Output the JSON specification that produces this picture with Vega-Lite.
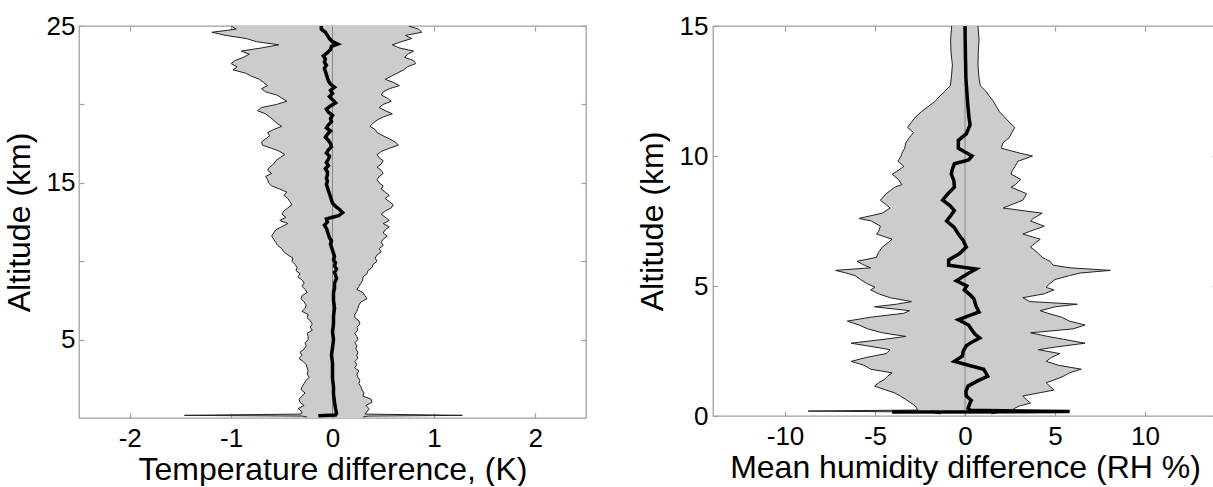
{
  "$schema": "https://vega.github.io/schema/vega-lite/v6.json",
  "background": "white",
  "padding": {"left": 2, "top": 12, "right": 0, "bottom": 0},
  "config": {
    "font": "Liberation Sans",
    "view": {"stroke": "#a0a0a0", "strokeWidth": 1.3},
    "axis": {"domain": false, "grid": false, "tickColor": "#a0a0a0", "tickWidth": 1.2, "tickSize": -5, "labelFont": "Liberation Sans", "titleFont": "Liberation Sans", "labelFontSize": 26, "titleFontSize": 32, "labelColor": "black", "titleColor": "black", "titleFontWeight": "normal"}
  },
  "datasets": {
    "temp": [
      {"alt":25.0,"lo":-1.0,"hi":0.75},{"alt":24.8,"lo":-0.95,"hi":0.85},{"alt":24.6,"lo":-1.19,"hi":0.88},{"alt":24.4,"lo":-1.05,"hi":0.72},{"alt":24.2,"lo":-0.85,"hi":0.78},{"alt":24.0,"lo":-0.75,"hi":0.68},{"alt":23.8,"lo":-0.53,"hi":0.59},{"alt":23.6,"lo":-0.70,"hi":0.66},{"alt":23.4,"lo":-0.90,"hi":0.80},{"alt":23.2,"lo":-0.82,"hi":0.74},{"alt":23.0,"lo":-0.88,"hi":0.71},{"alt":22.8,"lo":-0.96,"hi":0.80},{"alt":22.6,"lo":-1.00,"hi":0.82},{"alt":22.4,"lo":-0.94,"hi":0.74},{"alt":22.2,"lo":-0.98,"hi":0.70},{"alt":22.0,"lo":-0.86,"hi":0.64},{"alt":21.8,"lo":-0.80,"hi":0.58},{"alt":21.6,"lo":-0.72,"hi":0.52},{"alt":21.4,"lo":-0.68,"hi":0.60},{"alt":21.2,"lo":-0.64,"hi":0.66},{"alt":21.0,"lo":-0.70,"hi":0.56},{"alt":20.8,"lo":-0.66,"hi":0.50},{"alt":20.6,"lo":-0.55,"hi":0.48},{"alt":20.4,"lo":-0.50,"hi":0.54},{"alt":20.2,"lo":-0.45,"hi":0.58},{"alt":20.0,"lo":-0.55,"hi":0.50},{"alt":19.8,"lo":-0.70,"hi":0.46},{"alt":19.6,"lo":-0.74,"hi":0.52},{"alt":19.4,"lo":-0.66,"hi":0.59},{"alt":19.2,"lo":-0.62,"hi":0.50},{"alt":19.0,"lo":-0.58,"hi":0.44},{"alt":18.8,"lo":-0.55,"hi":0.40},{"alt":18.6,"lo":-0.50,"hi":0.37},{"alt":18.4,"lo":-0.58,"hi":0.42},{"alt":18.2,"lo":-0.64,"hi":0.44},{"alt":18.0,"lo":-0.62,"hi":0.50},{"alt":17.8,"lo":-0.66,"hi":0.56},{"alt":17.6,"lo":-0.70,"hi":0.62},{"alt":17.4,"lo":-0.69,"hi":0.65},{"alt":17.2,"lo":-0.60,"hi":0.56},{"alt":17.0,"lo":-0.52,"hi":0.48},{"alt":16.8,"lo":-0.47,"hi":0.44},{"alt":16.6,"lo":-0.52,"hi":0.46},{"alt":16.4,"lo":-0.56,"hi":0.50},{"alt":16.2,"lo":-0.58,"hi":0.48},{"alt":16.0,"lo":-0.62,"hi":0.44},{"alt":15.8,"lo":-0.64,"hi":0.48},{"alt":15.6,"lo":-0.60,"hi":0.50},{"alt":15.4,"lo":-0.66,"hi":0.46},{"alt":15.2,"lo":-0.64,"hi":0.44},{"alt":15.0,"lo":-0.63,"hi":0.46},{"alt":14.8,"lo":-0.60,"hi":0.50},{"alt":14.6,"lo":-0.52,"hi":0.48},{"alt":14.4,"lo":-0.45,"hi":0.52},{"alt":14.2,"lo":-0.48,"hi":0.56},{"alt":14.0,"lo":-0.44,"hi":0.52},{"alt":13.8,"lo":-0.42,"hi":0.56},{"alt":13.6,"lo":-0.40,"hi":0.60},{"alt":13.4,"lo":-0.44,"hi":0.58},{"alt":13.2,"lo":-0.48,"hi":0.52},{"alt":13.0,"lo":-0.50,"hi":0.48},{"alt":12.8,"lo":-0.46,"hi":0.52},{"alt":12.6,"lo":-0.52,"hi":0.56},{"alt":12.4,"lo":-0.44,"hi":0.50},{"alt":12.2,"lo":-0.50,"hi":0.56},{"alt":12.0,"lo":-0.56,"hi":0.52},{"alt":11.8,"lo":-0.58,"hi":0.50},{"alt":11.6,"lo":-0.60,"hi":0.54},{"alt":11.4,"lo":-0.58,"hi":0.50},{"alt":11.2,"lo":-0.56,"hi":0.48},{"alt":11.0,"lo":-0.54,"hi":0.50},{"alt":10.8,"lo":-0.50,"hi":0.46},{"alt":10.6,"lo":-0.48,"hi":0.48},{"alt":10.4,"lo":-0.44,"hi":0.44},{"alt":10.2,"lo":-0.39,"hi":0.42},{"alt":10.0,"lo":-0.40,"hi":0.44},{"alt":9.8,"lo":-0.37,"hi":0.40},{"alt":9.6,"lo":-0.35,"hi":0.39},{"alt":9.4,"lo":-0.36,"hi":0.35},{"alt":9.2,"lo":-0.32,"hi":0.34},{"alt":9.0,"lo":-0.34,"hi":0.30},{"alt":8.8,"lo":-0.30,"hi":0.30},{"alt":8.6,"lo":-0.28,"hi":0.28},{"alt":8.4,"lo":-0.30,"hi":0.26},{"alt":8.2,"lo":-0.27,"hi":0.24},{"alt":8.0,"lo":-0.25,"hi":0.30},{"alt":7.8,"lo":-0.30,"hi":0.32},{"alt":7.6,"lo":-0.31,"hi":0.34},{"alt":7.4,"lo":-0.28,"hi":0.28},{"alt":7.2,"lo":-0.26,"hi":0.26},{"alt":7.0,"lo":-0.27,"hi":0.25},{"alt":6.8,"lo":-0.30,"hi":0.24},{"alt":6.6,"lo":-0.24,"hi":0.22},{"alt":6.4,"lo":-0.25,"hi":0.22},{"alt":6.2,"lo":-0.22,"hi":0.26},{"alt":6.0,"lo":-0.20,"hi":0.27},{"alt":5.8,"lo":-0.22,"hi":0.24},{"alt":5.6,"lo":-0.20,"hi":0.25},{"alt":5.4,"lo":-0.25,"hi":0.22},{"alt":5.2,"lo":-0.24,"hi":0.24},{"alt":5.0,"lo":-0.24,"hi":0.25},{"alt":4.8,"lo":-0.27,"hi":0.22},{"alt":4.6,"lo":-0.26,"hi":0.24},{"alt":4.4,"lo":-0.28,"hi":0.23},{"alt":4.2,"lo":-0.32,"hi":0.25},{"alt":4.0,"lo":-0.30,"hi":0.24},{"alt":3.8,"lo":-0.33,"hi":0.25},{"alt":3.6,"lo":-0.29,"hi":0.22},{"alt":3.4,"lo":-0.26,"hi":0.24},{"alt":3.2,"lo":-0.25,"hi":0.22},{"alt":3.0,"lo":-0.24,"hi":0.26},{"alt":2.8,"lo":-0.25,"hi":0.24},{"alt":2.6,"lo":-0.23,"hi":0.25},{"alt":2.4,"lo":-0.26,"hi":0.27},{"alt":2.2,"lo":-0.28,"hi":0.26},{"alt":2.0,"lo":-0.30,"hi":0.28},{"alt":1.8,"lo":-0.31,"hi":0.29},{"alt":1.6,"lo":-0.27,"hi":0.31},{"alt":1.4,"lo":-0.30,"hi":0.30},{"alt":1.2,"lo":-0.33,"hi":0.38},{"alt":1.0,"lo":-0.32,"hi":0.39},{"alt":0.8,"lo":-0.28,"hi":0.33},{"alt":0.6,"lo":-0.34,"hi":0.36},{"alt":0.4,"lo":-0.30,"hi":0.34},{"alt":0.25,"lo":-0.31,"hi":0.32},{"alt":0.17,"lo":-1.46,"hi":1.28},{"alt":0.12,"lo":-0.30,"hi":0.35},{"alt":0.06,"lo":-0.25,"hi":0.30}
    ],
    "tmean": [
      {"alt":25.0,"m":-0.11},{"alt":24.8,"m":-0.11},{"alt":24.6,"m":-0.07},{"alt":24.4,"m":-0.05},{"alt":24.2,"m":-0.03},{"alt":24.0,"m":0.0},{"alt":23.85,"m":0.05},{"alt":23.7,"m":-0.01},{"alt":23.5,"m":-0.02},{"alt":23.3,"m":-0.05},{"alt":23.1,"m":-0.09},{"alt":22.9,"m":-0.07},{"alt":22.7,"m":-0.08},{"alt":22.5,"m":-0.06},{"alt":22.3,"m":-0.08},{"alt":22.1,"m":-0.07},{"alt":21.9,"m":-0.06},{"alt":21.7,"m":-0.05},{"alt":21.5,"m":-0.04},{"alt":21.3,"m":-0.02},{"alt":21.1,"m":0.02},{"alt":20.9,"m":-0.02},{"alt":20.7,"m":0.0},{"alt":20.5,"m":-0.03},{"alt":20.3,"m":0.0},{"alt":20.1,"m":0.03},{"alt":19.9,"m":-0.02},{"alt":19.7,"m":-0.06},{"alt":19.5,"m":-0.04},{"alt":19.3,"m":0.0},{"alt":19.1,"m":-0.02},{"alt":18.9,"m":-0.01},{"alt":18.7,"m":-0.04},{"alt":18.5,"m":-0.06},{"alt":18.3,"m":-0.02},{"alt":18.1,"m":-0.05},{"alt":17.9,"m":-0.07},{"alt":17.7,"m":-0.04},{"alt":17.5,"m":-0.02},{"alt":17.3,"m":-0.01},{"alt":17.1,"m":-0.04},{"alt":16.9,"m":-0.06},{"alt":16.7,"m":-0.03},{"alt":16.5,"m":-0.04},{"alt":16.3,"m":-0.06},{"alt":16.1,"m":-0.04},{"alt":15.9,"m":-0.07},{"alt":15.7,"m":-0.05},{"alt":15.5,"m":-0.05},{"alt":15.3,"m":-0.06},{"alt":15.1,"m":-0.05},{"alt":14.9,"m":-0.06},{"alt":14.7,"m":-0.05},{"alt":14.5,"m":-0.04},{"alt":14.3,"m":-0.03},{"alt":14.1,"m":-0.02},{"alt":13.9,"m":-0.01},{"alt":13.7,"m":0.0},{"alt":13.5,"m":0.03},{"alt":13.3,"m":0.07},{"alt":13.1,"m":0.10},{"alt":12.9,"m":0.06},{"alt":12.8,"m":0.0},{"alt":12.7,"m":-0.06},{"alt":12.5,"m":-0.05},{"alt":12.3,"m":-0.08},{"alt":12.1,"m":-0.06},{"alt":11.9,"m":-0.05},{"alt":11.7,"m":-0.04},{"alt":11.5,"m":-0.03},{"alt":11.3,"m":-0.01},{"alt":11.1,"m":-0.02},{"alt":10.9,"m":-0.01},{"alt":10.7,"m":0.0},{"alt":10.5,"m":0.01},{"alt":10.3,"m":0.02},{"alt":10.1,"m":0.01},{"alt":9.9,"m":0.03},{"alt":9.7,"m":0.02},{"alt":9.5,"m":0.04},{"alt":9.3,"m":0.02},{"alt":9.1,"m":0.03},{"alt":8.9,"m":0.04},{"alt":8.6,"m":0.02},{"alt":8.3,"m":0.02},{"alt":8.0,"m":0.01},{"alt":7.5,"m":0.01},{"alt":7.0,"m":0.02},{"alt":6.5,"m":0.01},{"alt":6.0,"m":0.01},{"alt":5.5,"m":0.0},{"alt":5.0,"m":0.01},{"alt":4.5,"m":0.0},{"alt":4.0,"m":-0.01},{"alt":3.5,"m":0.0},{"alt":3.0,"m":0.0},{"alt":2.5,"m":0.0},{"alt":2.0,"m":0.01},{"alt":1.5,"m":0.01},{"alt":1.0,"m":0.02},{"alt":0.6,"m":0.03},{"alt":0.3,"m":0.04},{"alt":0.19,"m":0.03},{"alt":0.14,"m":-0.14}
    ],
    "hum": [
      {"alt":15.0,"lo":-0.74,"hi":0.72},{"alt":14.5,"lo":-0.80,"hi":0.78},{"alt":14.0,"lo":-0.78,"hi":0.74},{"alt":13.5,"lo":-0.70,"hi":0.72},{"alt":13.0,"lo":-0.76,"hi":0.78},{"alt":12.7,"lo":-0.82,"hi":0.85},{"alt":12.5,"lo":-1.10,"hi":1.15},{"alt":12.3,"lo":-1.40,"hi":1.35},{"alt":12.1,"lo":-1.67,"hi":1.58},{"alt":11.9,"lo":-2.05,"hi":1.75},{"alt":11.7,"lo":-2.43,"hi":1.91},{"alt":11.5,"lo":-2.75,"hi":2.20},{"alt":11.3,"lo":-2.97,"hi":2.45},{"alt":11.1,"lo":-3.19,"hi":2.77},{"alt":10.9,"lo":-2.86,"hi":2.60},{"alt":10.7,"lo":-3.10,"hi":2.45},{"alt":10.5,"lo":-3.29,"hi":2.10},{"alt":10.3,"lo":-3.35,"hi":2.02},{"alt":10.1,"lo":-3.51,"hi":3.10},{"alt":10.0,"lo":-3.55,"hi":3.75},{"alt":9.8,"lo":-3.73,"hi":2.95},{"alt":9.6,"lo":-3.40,"hi":2.77},{"alt":9.4,"lo":-3.80,"hi":2.60},{"alt":9.3,"lo":-4.05,"hi":2.56},{"alt":9.1,"lo":-3.70,"hi":3.10},{"alt":8.9,"lo":-3.51,"hi":2.80},{"alt":8.8,"lo":-3.90,"hi":2.56},{"alt":8.55,"lo":-4.38,"hi":3.42},{"alt":8.3,"lo":-4.70,"hi":3.21},{"alt":8.0,"lo":-4.16,"hi":2.12},{"alt":7.8,"lo":-4.60,"hi":4.29},{"alt":7.6,"lo":-5.89,"hi":3.80},{"alt":7.5,"lo":-5.20,"hi":3.64},{"alt":7.3,"lo":-4.70,"hi":4.40},{"alt":7.1,"lo":-4.80,"hi":3.60},{"alt":7.0,"lo":-4.92,"hi":3.21},{"alt":6.8,"lo":-4.05,"hi":4.18},{"alt":6.65,"lo":-4.30,"hi":3.90},{"alt":6.5,"lo":-4.59,"hi":3.64},{"alt":6.3,"lo":-4.80,"hi":4.00},{"alt":6.1,"lo":-4.92,"hi":4.29},{"alt":5.95,"lo":-6.00,"hi":4.72},{"alt":5.8,"lo":-5.60,"hi":4.90},{"alt":5.7,"lo":-5.24,"hi":5.81},{"alt":5.6,"lo":-7.19,"hi":8.08},{"alt":5.5,"lo":-6.60,"hi":6.40},{"alt":5.4,"lo":-6.11,"hi":5.81},{"alt":5.25,"lo":-5.80,"hi":5.00},{"alt":5.1,"lo":-5.46,"hi":4.72},{"alt":4.95,"lo":-5.00,"hi":4.50},{"alt":4.85,"lo":-5.24,"hi":4.94},{"alt":4.7,"lo":-4.80,"hi":4.40},{"alt":4.55,"lo":-4.16,"hi":3.21},{"alt":4.4,"lo":-2.97,"hi":3.60},{"alt":4.3,"lo":-3.80,"hi":6.24},{"alt":4.2,"lo":-5.03,"hi":5.00},{"alt":4.05,"lo":-3.08,"hi":4.18},{"alt":3.95,"lo":-3.40,"hi":4.60},{"alt":3.8,"lo":-5.24,"hi":5.37},{"alt":3.65,"lo":-6.54,"hi":5.80},{"alt":3.5,"lo":-5.89,"hi":6.67},{"alt":3.35,"lo":-5.40,"hi":6.00},{"alt":3.2,"lo":-4.59,"hi":3.64},{"alt":3.06,"lo":-3.29,"hi":4.60},{"alt":2.95,"lo":-4.50,"hi":5.48},{"alt":2.8,"lo":-6.33,"hi":6.67},{"alt":2.65,"lo":-5.00,"hi":5.00},{"alt":2.55,"lo":-4.16,"hi":4.07},{"alt":2.4,"lo":-4.38,"hi":5.27},{"alt":2.25,"lo":-5.50,"hi":4.80},{"alt":2.1,"lo":-6.33,"hi":4.51},{"alt":1.95,"lo":-5.60,"hi":5.20},{"alt":1.8,"lo":-5.24,"hi":6.46},{"alt":1.66,"lo":-4.05,"hi":5.80},{"alt":1.53,"lo":-4.30,"hi":5.48},{"alt":1.4,"lo":-4.49,"hi":5.00},{"alt":1.28,"lo":-4.80,"hi":4.51},{"alt":1.15,"lo":-5.03,"hi":4.70},{"alt":1.0,"lo":-4.40,"hi":4.94},{"alt":0.9,"lo":-3.94,"hi":4.20},{"alt":0.77,"lo":-3.60,"hi":3.21},{"alt":0.64,"lo":-3.29,"hi":3.40},{"alt":0.5,"lo":-3.00,"hi":3.64},{"alt":0.38,"lo":-2.75,"hi":3.00},{"alt":0.3,"lo":-2.70,"hi":2.77},{"alt":0.23,"lo":-2.60,"hi":2.60},{"alt":0.19,"lo":-8.71,"hi":5.81},{"alt":0.15,"lo":-2.0,"hi":2.0},{"alt":0.08,"lo":-1.34,"hi":1.47}
    ],
    "hmean": [
      {"alt":15.0,"m":0.0},{"alt":14.0,"m":0.02},{"alt":13.0,"m":0.05},{"alt":12.0,"m":0.15},{"alt":11.5,"m":0.22},{"alt":11.2,"m":0.28},{"alt":10.85,"m":0.07},{"alt":10.6,"m":-0.37},{"alt":10.3,"m":-0.37},{"alt":10.15,"m":0.0},{"alt":10.0,"m":0.39},{"alt":9.85,"m":0.2},{"alt":9.7,"m":-0.59},{"alt":9.5,"m":-0.70},{"alt":9.3,"m":-0.76},{"alt":9.05,"m":-0.62},{"alt":8.8,"m":-0.59},{"alt":8.55,"m":-0.95},{"alt":8.3,"m":-1.24},{"alt":8.1,"m":-0.85},{"alt":7.9,"m":-0.59},{"alt":7.7,"m":-0.80},{"alt":7.5,"m":-1.02},{"alt":7.25,"m":-0.60},{"alt":7.0,"m":-0.37},{"alt":6.75,"m":-0.10},{"alt":6.5,"m":0.07},{"alt":6.25,"m":-0.30},{"alt":6.0,"m":-0.91},{"alt":5.8,"m":-0.91},{"alt":5.65,"m":0.61},{"alt":5.45,"m":0.10},{"alt":5.2,"m":-0.48},{"alt":5.0,"m":0.10},{"alt":4.85,"m":-0.04},{"alt":4.65,"m":0.30},{"alt":4.5,"m":0.50},{"alt":4.25,"m":0.60},{"alt":4.0,"m":0.78},{"alt":3.85,"m":0.20},{"alt":3.7,"m":-0.37},{"alt":3.5,"m":0.20},{"alt":3.3,"m":0.39},{"alt":3.15,"m":0.55},{"alt":3.0,"m":0.82},{"alt":2.85,"m":0.40},{"alt":2.7,"m":0.07},{"alt":2.5,"m":-0.10},{"alt":2.3,"m":-0.15},{"alt":2.1,"m":-0.59},{"alt":1.95,"m":0.20},{"alt":1.8,"m":1.04},{"alt":1.53,"m":1.26},{"alt":1.35,"m":0.70},{"alt":1.15,"m":0.17},{"alt":0.95,"m":0.05},{"alt":0.77,"m":0.07},{"alt":0.6,"m":0.35},{"alt":0.5,"m":0.28},{"alt":0.3,"m":0.17},{"alt":0.22,"m":0.30},{"alt":0.17,"m":5.81},{"alt":0.15,"m":-4.05}
    ]
  },
  "spacing": 47,
  "hconcat": [
    {
      "width": 507, "height": 392,
      "layer": [
        {"data": {"name": "temp"}, "mark": {"type": "area", "orient": "horizontal", "color": "#cccccc", "clip": true},
         "encoding": {
           "y": {"field": "alt", "type": "quantitative", "scale": {"domain": [0, 25], "nice": false, "zero": false},
                 "axis": {"orient": "left", "values": [5, 10, 15, 20, 25], "labelExpr": "datum.value % 10 == 5 ? '' + datum.value : ''", "labelPadding": 9, "title": "Altitude (km)", "titlePadding": 10}},
           "x": {"field": "lo", "type": "quantitative", "scale": {"domain": [-2.5, 2.5], "nice": false, "zero": false},
                 "axis": {"orient": "bottom", "values": [-2, -1, 0, 1, 2], "labelExpr": "'' + datum.value", "labelPadding": 12, "title": "Temperature difference, (K)", "titlePadding": 3}},
           "x2": {"field": "hi"}}},
        {"data": {"name": "temp"}, "mark": {"type": "line", "color": "#222222", "strokeWidth": 1, "clip": true},
         "encoding": {"y": {"field": "alt", "type": "quantitative", "scale": {"domain": [0, 25], "nice": false, "zero": false}, "axis": null},
                      "x": {"field": "lo", "type": "quantitative", "scale": {"domain": [-2.5, 2.5], "nice": false, "zero": false}, "axis": null},
                      "order": {"field": "alt"}}},
        {"data": {"name": "temp"}, "mark": {"type": "line", "color": "#222222", "strokeWidth": 1, "clip": true},
         "encoding": {"y": {"field": "alt", "type": "quantitative", "scale": {"domain": [0, 25], "nice": false, "zero": false}, "axis": null},
                      "x": {"field": "hi", "type": "quantitative", "scale": {"domain": [-2.5, 2.5], "nice": false, "zero": false}, "axis": null},
                      "order": {"field": "alt"}}},
        {"data": {"values": [{}]}, "mark": {"type": "rule", "color": "#888888", "strokeWidth": 1},
         "encoding": {"x": {"datum": 0, "type": "quantitative", "scale": {"domain": [-2.5, 2.5], "nice": false, "zero": false}, "axis": null}}},
        {"data": {"name": "tmean"}, "mark": {"type": "line", "color": "black", "strokeWidth": 3.5, "clip": true},
         "encoding": {"y": {"field": "alt", "type": "quantitative", "scale": {"domain": [0, 25], "nice": false, "zero": false},
                            "axis": {"orient": "right", "values": [5, 10, 15, 20, 25], "labels": false, "title": null}},
                      "x": {"field": "m", "type": "quantitative", "scale": {"domain": [-2.5, 2.5], "nice": false, "zero": false},
                            "axis": {"orient": "top", "values": [-2, -1, 0, 1, 2], "labels": false, "title": null}},
                      "order": {"field": "alt"}}}
      ],
      "resolve": {"axis": {"x": "independent", "y": "independent"}}
    },
    {
      "width": 504, "height": 390,
      "layer": [
        {"data": {"name": "hum"}, "mark": {"type": "area", "orient": "horizontal", "color": "#cccccc", "clip": true},
         "encoding": {
           "y": {"field": "alt", "type": "quantitative", "scale": {"domain": [0, 15], "nice": false, "zero": false},
                 "axis": {"orient": "left", "values": [0, 5, 10, 15], "labelPadding": 10, "title": "Altitude (km)", "titlePadding": 10}},
           "x": {"field": "lo", "type": "quantitative", "scale": {"domain": [-14, 14], "nice": false, "zero": false},
                 "axis": {"orient": "bottom", "values": [-10, -5, 0, 5, 10], "labelExpr": "'' + datum.value", "labelPadding": 12, "title": "Mean humidity difference (RH %)", "titlePadding": 3}},
           "x2": {"field": "hi"}}},
        {"data": {"name": "hum"}, "mark": {"type": "line", "color": "#222222", "strokeWidth": 1, "clip": true},
         "encoding": {"y": {"field": "alt", "type": "quantitative", "scale": {"domain": [0, 15], "nice": false, "zero": false}, "axis": null},
                      "x": {"field": "lo", "type": "quantitative", "scale": {"domain": [-14, 14], "nice": false, "zero": false}, "axis": null},
                      "order": {"field": "alt"}}},
        {"data": {"name": "hum"}, "mark": {"type": "line", "color": "#222222", "strokeWidth": 1, "clip": true},
         "encoding": {"y": {"field": "alt", "type": "quantitative", "scale": {"domain": [0, 15], "nice": false, "zero": false}, "axis": null},
                      "x": {"field": "hi", "type": "quantitative", "scale": {"domain": [-14, 14], "nice": false, "zero": false}, "axis": null},
                      "order": {"field": "alt"}}},
        {"data": {"values": [{}]}, "mark": {"type": "rule", "color": "#888888", "strokeWidth": 1},
         "encoding": {"x": {"datum": 0, "type": "quantitative", "scale": {"domain": [-14, 14], "nice": false, "zero": false}, "axis": null}}},
        {"data": {"name": "hmean"}, "mark": {"type": "line", "color": "black", "strokeWidth": 3.5, "clip": true},
         "encoding": {"y": {"field": "alt", "type": "quantitative", "scale": {"domain": [0, 15], "nice": false, "zero": false},
                            "axis": {"orient": "right", "values": [0, 5, 10, 15], "labels": false, "title": null}},
                      "x": {"field": "m", "type": "quantitative", "scale": {"domain": [-14, 14], "nice": false, "zero": false},
                            "axis": {"orient": "top", "values": [-10, -5, 0, 5, 10], "labels": false, "title": null}},
                      "order": {"field": "alt"}}}
      ],
      "resolve": {"axis": {"x": "independent", "y": "independent"}}
    }
  ]
}
